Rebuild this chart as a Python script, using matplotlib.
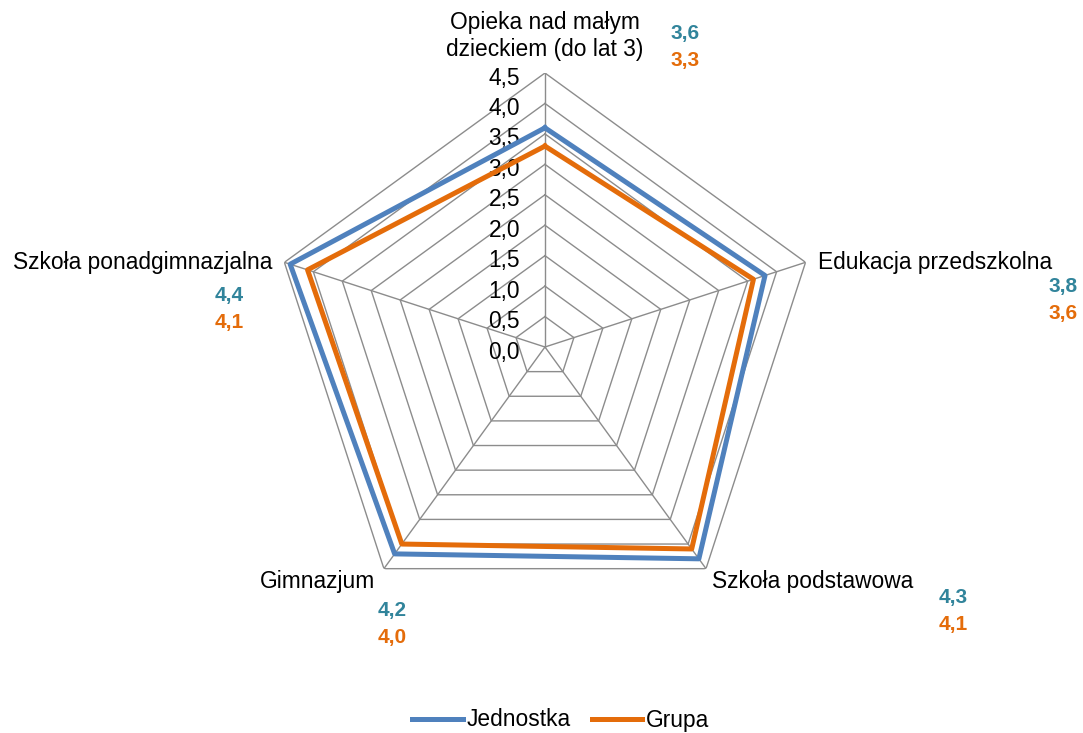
import numpy as np
import matplotlib.pyplot as plt

plt.rcParams['font.family'] = ['Liberation Sans', 'DejaVu Sans']

categories = ["Opieka nad małym\ndzieckiem (do lat 3)", "Edukacja przedszkolna",
              "Szkoła podstawowa", "Gimnazjum", "Szkoła ponadgimnazjalna"]
jednostka = [3.6, 3.8, 4.3, 4.2, 4.4]
grupa = [3.3, 3.6, 4.1, 4.0, 4.1]
ticks = [0.0, 0.5, 1.0, 1.5, 2.0, 2.5, 3.0, 3.5, 4.0, 4.5]

blue = "#4F81BD"
orange = "#E46C0A"
teal = "#31849B"
grid_c = "#8C8C8C"

n = len(categories)
theta = np.linspace(0, 2 * np.pi, n, endpoint=False)
theta_c = np.append(theta, theta[0])

fig = plt.figure(figsize=(10.83, 7.33), dpi=100)
ax = fig.add_axes([0.2502, 0.1528, 0.506, 0.7476], projection='polar')
ax.set_theta_offset(np.pi / 2)
ax.set_theta_direction(-1)
ax.set_ylim(0, 4.5)
ax.grid(False)
ax.set_xticks([])
ax.set_yticks([])
ax.spines['polar'].set_visible(False)
ax.patch.set_alpha(0)

# polygon gridlines and spokes
for r in ticks[1:]:
    ax.plot(theta_c, [r] * (n + 1), color=grid_c, lw=1, zorder=1)
for t in theta:
    ax.plot([t, t], [0, 4.5], color=grid_c, lw=1, zorder=1)

ax.plot(theta_c, jednostka + jednostka[:1], color=blue, lw=3.6, zorder=3,
        label="Jednostka")
ax.plot(theta_c, grupa + grupa[:1], color=orange, lw=3.6, zorder=3,
        label="Grupa")

# value axis labels
for r in ticks:
    ax.annotate(f"{r:.1f}".replace(".", ","), xy=(0, r), xytext=(-25, -5),
                textcoords='offset pixels', ha='right', va='center',
                fontsize=16.4, zorder=2)

# category labels: offset, alignment
cat_pos = [((0, 37), 'center'), ((12, 0), 'left'), ((6, -13), 'left'),
           ((-9, -13), 'right'), ((-12, 0), 'right')]
val_pos = [((140, 40), 'center'), ((272, -24), 'right'), ((247, -29), 'center'),
           ((8, -42), 'center'), ((-55, -33), 'center')]
for i in range(n):
    (dx, dy), ha = cat_pos[i]
    ax.annotate(categories[i], xy=(theta[i], 4.5), xytext=(dx, dy),
                textcoords='offset pixels', ha=ha, va='center', fontsize=16.4,
                linespacing=1.2, annotation_clip=False)
    (dx, dy), ha = val_pos[i]
    ax.annotate(f"{jednostka[i]:.1f}".replace(".", ","), xy=(theta[i], 4.5),
                xytext=(dx, dy), textcoords='offset pixels', ha=ha, va='center',
                fontsize=15, fontweight='bold', color=teal, annotation_clip=False)
    ax.annotate(f"{grupa[i]:.1f}".replace(".", ","), xy=(theta[i], 4.5),
                xytext=(dx, dy - 27), textcoords='offset pixels', ha=ha, va='center',
                fontsize=15, fontweight='bold', color=orange, annotation_clip=False)

fig.legend(loc='center', bbox_to_anchor=(0.518, 1 - 720 / 733), ncol=2,
           frameon=False, fontsize=16.4, handlelength=2.2, handletextpad=0.2,
           columnspacing=0.9, borderpad=0.1)

fig.savefig("out.png", dpi=100)
